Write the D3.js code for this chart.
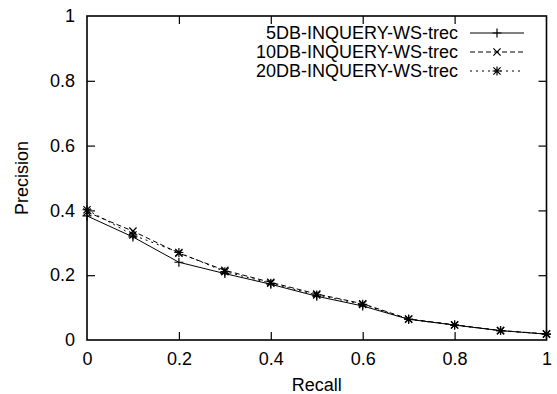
<!DOCTYPE html>
<html>
<head>
<meta charset="utf-8">
<script src="https://cdn.jsdelivr.net/npm/d3@7"></script>
<style>
  body { margin: 0; background: #fff; }
  text { font-family: "Liberation Sans", Arial, sans-serif; fill: #000; }
</style>
</head>
<body>
<div id="chart"></div>
<script>
// recall points
var recall = [0, 0.1, 0.2, 0.3, 0.4, 0.5, 0.6, 0.7, 0.8, 0.9, 1.0];
// precision per run
var db5 = [0.383, 0.318, 0.240, 0.205, 0.172, 0.135, 0.105, 0.064, 0.046, 0.029, 0.018];
var db10 = [0.395, 0.336, 0.268, 0.215, 0.178, 0.142, 0.112, 0.065, 0.047, 0.029, 0.019];
var db20 = [0.402, 0.324, 0.270, 0.211, 0.175, 0.139, 0.110, 0.064, 0.046, 0.029, 0.018];
var seriesNames = ["5DB-INQUERY-WS-trec", "10DB-INQUERY-WS-trec", "20DB-INQUERY-WS-trec"];
var tickVals = [0, 0.2, 0.4, 0.6, 0.8, 1];

var svgWidth = 557, svgHeight = 394;
var margin = {top: 16, right: 10.5, bottom: 54, left: 87};
var width = svgWidth - margin.left - margin.right;
var height = svgHeight - margin.top - margin.bottom;
var fontSize = "18px";

var svg = d3.select("#chart").append("svg")
    .attr("width", svgWidth)
    .attr("height", svgHeight);
var g = svg.append("g")
    .attr("transform", `translate(${margin.left}, ${margin.top})`);

var x = d3.scaleLinear().domain([0, 1]).range([0, width]);
var y = d3.scaleLinear().domain([0, 1]).range([height, 0]);

var fmt = d => d3.format("")(+d.toFixed(1));

// axes - gnuplot style, ticks pointing inward on all sides
g.append("g").attr("transform", `translate(0, ${height})`)
    .call(d3.axisBottom(x).tickValues(tickVals).tickSize(-8).tickPadding(12).tickFormat(fmt));
g.append("g")
    .call(d3.axisLeft(y).tickValues(tickVals).tickSize(-8).tickPadding(12).tickFormat(fmt));
g.append("g")
    .call(d3.axisTop(x).tickValues(tickVals).tickSize(-8).tickFormat(""));
g.append("g").attr("transform", `translate(${width}, 0)`)
    .call(d3.axisRight(y).tickValues(tickVals).tickSize(-8).tickFormat(""));
g.selectAll(".domain").remove();
g.selectAll(".tick line").attr("stroke", "#000").attr("stroke-width", 1.2);
g.selectAll(".tick text").style("font-size", fontSize).attr("fill", "#000");

// hide ticks at the corners
g.selectAll(".tick").filter(d => d === 0 || d === 1).select("line").remove();

g.append("rect")
    .attr("width", width).attr("height", height)
    .attr("fill", "none").attr("stroke", "#000").attr("stroke-width", 1.6);

// axis titles
svg.append("text")
    .attr("x", margin.left + width / 2).attr("y", 391)
    .style("text-anchor", "middle").style("font-size", fontSize)
    .text("Recall");
svg.append("text")
    .attr("transform", `translate(28, ${margin.top + height / 2}) rotate(-90)`)
    .style("text-anchor", "middle").style("font-size", fontSize)
    .text("Precision");

var dashes = [null, "5,3", "2,4"];
var allData = [db5, db10, db20];

function marker(sel, type) {
    var s = 4.5;
    var p = "";
    if (type === 0 || type === 2) p += `M${-s},0H${s}M0,${-s}V${s}`;
    if (type === 1 || type === 2) p += `M${-s * 0.8},${-s * 0.8}L${s * 0.8},${s * 0.8}M${-s * 0.8},${s * 0.8}L${s * 0.8},${-s * 0.8}`;
    sel.append("path").attr("d", p).attr("stroke", "#000").attr("stroke-width", 1.2).attr("fill", "none");
}

var line = d3.line().x((d, i) => x(recall[i])).y(d => y(d));

allData.forEach(function(vals, k) {
    g.append("path")
        .datum(vals)
        .attr("d", line)
        .attr("fill", "none")
        .attr("stroke", "#000")
        .attr("stroke-width", 1)
        .attr("stroke-dasharray", dashes[k]);
    vals.forEach(function(v, i) {
        var m = g.append("g").attr("transform", `translate(${x(recall[i])}, ${y(v)})`);
        marker(m, k);
    });
});

// legend
var legY = [33, 52, 71];
seriesNames.forEach(function(name, k) {
    svg.append("text")
        .attr("x", 458).attr("y", legY[k]).attr("dy", "0.35em")
        .style("text-anchor", "end").style("font-size", fontSize)
        .text(name);
    svg.append("line")
        .attr("x1", 470).attr("x2", 524)
        .attr("y1", legY[k]).attr("y2", legY[k])
        .attr("stroke", "#000").attr("stroke-width", 1)
        .attr("stroke-dasharray", dashes[k]);
    marker(svg.append("g").attr("transform", `translate(497, ${legY[k]})`), k);
});
</script>
</body>
</html>
